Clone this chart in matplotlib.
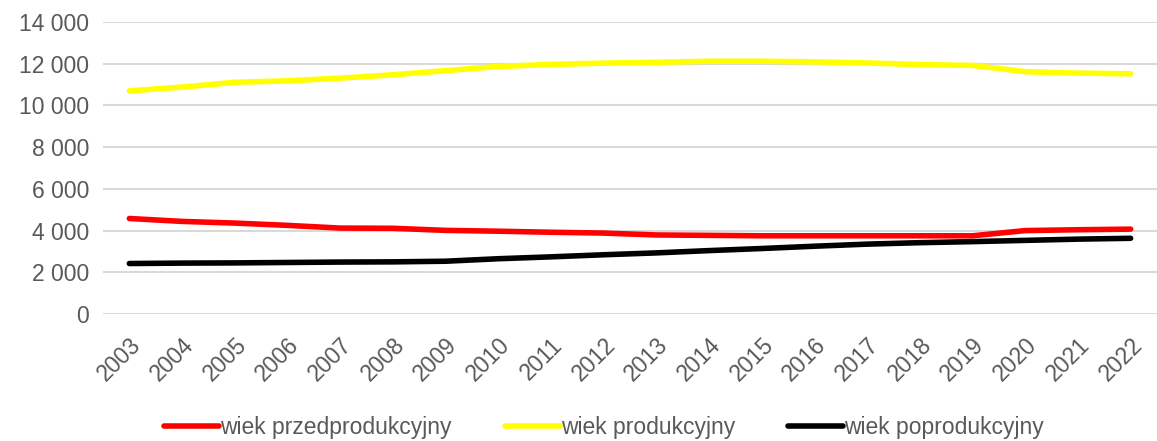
import matplotlib.pyplot as plt
from matplotlib.ticker import FuncFormatter

plt.rcParams['font.family'] = ['Liberation Sans', 'DejaVu Sans']

years = [str(y) for y in range(2003, 2023)]

# ludnosc wg ekonomicznych grup wieku
przedprodukcyjny = [4580, 4440, 4360, 4250, 4120, 4110, 4010, 3970, 3920, 3880,
                    3790, 3770, 3750, 3750, 3750, 3750, 3750, 4000, 4040, 4070]
produkcyjny = [10700, 10880, 11110, 11180, 11310, 11470, 11670, 11870, 11970, 12030,
               12070, 12120, 12120, 12090, 12040, 11960, 11920, 11620, 11550, 11520]
poprodukcyjny = [2420, 2440, 2450, 2470, 2490, 2500, 2530, 2650, 2740, 2840,
                 2930, 3040, 3140, 3250, 3350, 3420, 3470, 3530, 3590, 3630]

fig = plt.figure(figsize=(11.57, 4.41), dpi=100)
ax = fig.add_axes([0.089, 0.288, 0.911, 0.662])

x = range(len(years))
ax.plot(x, przedprodukcyjny, color='#ff0000', linewidth=4, solid_capstyle='round',
        label='wiek przedprodukcyjny')
ax.plot(x, produkcyjny, color='#ffff00', linewidth=4, solid_capstyle='round',
        label='wiek produkcyjny')
ax.plot(x, poprodukcyjny, color='#000000', linewidth=4, solid_capstyle='round',
        label='wiek poprodukcyjny')

ax.set_xlim(-0.5, len(years) - 0.5)
ax.set_ylim(0, 14000)
ax.set_yticks(range(0, 14001, 2000))
ax.yaxis.set_major_formatter(FuncFormatter(lambda v, p: f'{int(v):,}'.replace(',', ' ')))
ax.set_xticks(list(x))
ax.set_xticklabels(years, rotation=45, ha='right', rotation_mode='anchor')

ax.grid(axis='y', color='#d9d9d9', linewidth=1.5)
ax.set_axisbelow(True)
for s in ax.spines.values():
    s.set_visible(False)
ax.tick_params(length=0, labelsize=16.5, labelcolor='#595959')
ax.tick_params(axis='x', pad=14)
ax.tick_params(axis='y', pad=10)

fig.legend(loc='center', bbox_to_anchor=(0.522, 0.03), ncol=3, frameon=False,
           fontsize=16.5, labelcolor='#595959', handlelength=2.4, handletextpad=0.05,
           columnspacing=2.3)

plt.savefig('out.png', dpi=100)
